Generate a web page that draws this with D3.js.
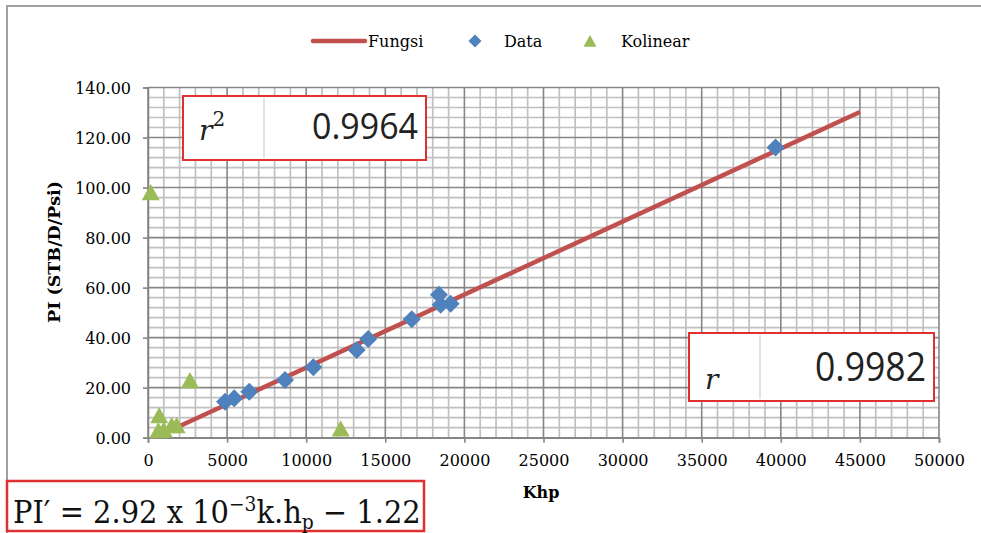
<!DOCTYPE html>
<html>
<head>
<meta charset="utf-8">
<script src="https://cdn.jsdelivr.net/npm/d3@7"></script>
<style>
  body { margin: 0; background: #fff; }
  svg { display: block; }
  .tick-label { font-family: 'DejaVu Serif', serif; font-size: 16px; fill: #000; }
  .axis-title { font-family: 'DejaVu Serif', serif; font-weight: bold; fill: #000; }
  .legend-text { font-family: 'DejaVu Serif', serif; font-size: 16px; fill: #000; }
</style>
</head>
<body>
<svg id="chart" width="981" height="533"></svg>
<script>
// --- data ---
const dataKhp = [4870, 5450, 6400, 8660, 10450, 13190, 13920, 16670, 18390, 18500, 19130, 39670];
const dataPI = [14.4, 15.8, 18.4, 23.1, 28.2, 35.1, 39.5, 47.4, 57.1, 53.1, 53.5, 116.0];

const kolinearKhp = [170, 2650, 710, 650, 1500, 1810, 1000, 12180];
const kolinearPI = [97.5, 22.4, 8.4, 2.4, 4.4, 4.4, 2.7, 3.1];

const fungsiKhp = [1500, 45000];
const fungsiPI = [3.16, 130.2];

const xTicks = [0, 5000, 10000, 15000, 20000, 25000, 30000, 35000, 40000, 45000, 50000];
const yTicks = [0, 20, 40, 60, 80, 100, 120, 140];

const legendNames = ['Fungsi', 'Data', 'Kolinear'];
const r2Value = '0.9964';
const rValue = '0.9982';

// --- layout ---
const margin = { left: 148, right: 42, top: 87.5, bottom: 95.3 };
const W = 981, H = 533;
const svg = d3.select('#chart');

svg.append('rect').attr('width', W).attr('height', H).attr('fill', '#fff');

// chart area border (top + left visible)
svg.append('path')
  .attr('d', `M7,${H} V6 H${W}`)
  .attr('fill', 'none')
  .attr('stroke', '#a0a0a0')
  .attr('stroke-width', 2);

const x = d3.scaleLinear().domain([0, 50000]).range([margin.left, W - margin.right]);
const y = d3.scaleLinear().domain([0, 140]).range([H - margin.bottom, margin.top]);

const grid = svg.append('g');

// minor grid
grid.selectAll('.minor-x')
  .data(d3.range(0, 50001, 1000).filter(v => v % 5000 !== 0))
  .join('line')
  .attr('x1', d => x(d)).attr('x2', d => x(d))
  .attr('y1', y(0)).attr('y2', y(140))
  .attr('stroke', '#c0c0c0').attr('stroke-width', 1.7);

grid.selectAll('.minor-y')
  .data(d3.range(0, 141, 4).filter(v => v % 20 !== 0))
  .join('line')
  .attr('x1', x(0)).attr('x2', x(50000))
  .attr('y1', d => y(d)).attr('y2', d => y(d))
  .attr('stroke', '#c0c0c0').attr('stroke-width', 1.7);

// major grid
grid.selectAll('.major-x')
  .data(xTicks)
  .join('line')
  .attr('x1', d => x(d)).attr('x2', d => x(d))
  .attr('y1', y(0)).attr('y2', y(140))
  .attr('stroke', '#868686').attr('stroke-width', 1.6);

grid.selectAll('.major-y')
  .data(yTicks)
  .join('line')
  .attr('x1', x(0)).attr('x2', x(50000))
  .attr('y1', d => y(d)).attr('y2', d => y(d))
  .attr('stroke', '#868686').attr('stroke-width', 1.6);

// axes
const axisX = d3.axisBottom(x).tickValues(xTicks).tickSize(5).tickPadding(9).tickFormat(d3.format('d'));
const axisY = d3.axisLeft(y).tickValues(yTicks).tickSize(5).tickPadding(12).tickFormat(d3.format('.2f'));

const gx = svg.append('g').attr('transform', `translate(0,${y(0)})`).call(axisX);
const gy = svg.append('g').attr('transform', `translate(${x(0)},0)`).call(axisY);

[gx, gy].forEach(g => {
  g.attr('font-family', null).attr('font-size', null);
  g.select('.domain').attr('stroke', '#868686').attr('stroke-width', 1.6);
  g.selectAll('.tick line').attr('stroke', '#868686').attr('stroke-width', 1.6);
  g.selectAll('.tick text').attr('class', 'tick-label');
});
gx.selectAll('.tick text').attr('dy', '0.9em');
gy.selectAll('.tick text').attr('dy', '0.35em');

// axis titles
svg.append('text')
  .attr('class', 'axis-title')
  .attr('font-size', 16)
  .attr('x', 541).attr('y', 498)
  .attr('text-anchor', 'middle')
  .text('Khp');

svg.append('text')
  .attr('class', 'axis-title')
  .attr('font-size', 17.5)
  .attr('transform', 'translate(60,252) rotate(-90)')
  .attr('text-anchor', 'middle')
  .text('PI (STB/D/Psi)');

// mark shapes
function diamond(r) {
  return `M0,${-r}L${r},0L0,${r}L${-r},0Z`;
}
function triangle(w) {
  const h = w * 0.9;
  return `M0,${-h * 0.6}L${w / 2},${h * 0.4}L${-w / 2},${h * 0.4}Z`;
}

const lineColor = '#c0504d';
const dataColor = '#4f81bd';
const kolColor = '#9bbb59';

// Fungsi line
const fungsi = fungsiKhp.map((k, i) => ({ k, p: fungsiPI[i] }));
svg.append('path')
  .datum(fungsi)
  .attr('d', d3.line().x(d => x(d.k)).y(d => y(d.p)))
  .attr('fill', 'none')
  .attr('stroke', lineColor)
  .attr('stroke-width', 4.5);

// Data diamonds
const dataPts = dataKhp.map((k, i) => ({ k, p: dataPI[i] }));
svg.append('g').selectAll('path')
  .data(dataPts)
  .join('path')
  .attr('d', diamond(9))
  .attr('transform', d => `translate(${x(d.k)},${y(d.p)})`)
  .attr('fill', dataColor);

// Kolinear triangles
const kolPts = kolinearKhp.map((k, i) => ({ k, p: kolinearPI[i] }));
svg.append('g').selectAll('path')
  .data(kolPts)
  .join('path')
  .attr('d', triangle(18))
  .attr('transform', d => `translate(${x(d.k)},${y(d.p)})`)
  .attr('fill', kolColor);

// legend
const legend = svg.append('g');
legend.append('line')
  .attr('x1', 313).attr('x2', 365).attr('y1', 41).attr('y2', 41)
  .attr('stroke', lineColor).attr('stroke-width', 4.5).attr('stroke-linecap', 'round');
legend.append('text').attr('class', 'legend-text').attr('x', 368).attr('y', 47).text(legendNames[0]);
legend.append('path').attr('d', diamond(6.5)).attr('transform', 'translate(475,41)').attr('fill', dataColor);
legend.append('text').attr('class', 'legend-text').attr('x', 504).attr('y', 47).text(legendNames[1]);
legend.append('path').attr('d', triangle(13)).attr('transform', 'translate(590,42)').attr('fill', kolColor);
legend.append('text').attr('class', 'legend-text').attr('x', 621).attr('y', 47).text(legendNames[2]);

// statistic boxes
function statBox(x0, y0, w, h, sep, symbol, sup, value, fs, valW, valY, symY) {
  const g = svg.append('g');
  g.append('rect')
    .attr('x', x0).attr('y', y0).attr('width', w).attr('height', h)
    .attr('fill', '#fff')
    .attr('stroke', '#e03030').attr('stroke-width', 2);
  g.append('line')
    .attr('x1', sep).attr('x2', sep).attr('y1', y0 + 2).attr('y2', y0 + h - 2)
    .attr('stroke', '#d8d8d8').attr('stroke-width', 1.5);
  const t = g.append('text')
    .attr('x', x0 + 16).attr('y', symY)
    .attr('font-family', "'DejaVu Serif', serif")
    .attr('font-style', 'italic')
    .attr('font-size', 28)
    .attr('fill', '#222');
  t.append('tspan').text(symbol);
  if (sup) {
    t.append('tspan').attr('dy', -14).attr('font-size', 20).attr('font-style', 'normal').text(sup);
  }
  g.append('text')
    .attr('x', x0 + w - 8).attr('y', valY)
    .attr('text-anchor', 'end')
    .attr('font-family', "'Open Sans', 'Liberation Sans', sans-serif")
    .attr('font-size', fs)
    .attr('textLength', valW)
    .attr('lengthAdjust', 'spacingAndGlyphs')
    .attr('fill', '#222')
    .text(value);
}

statBox(183, 96, 243, 64, 264, 'r', '2', r2Value, 37, 106, 139, 140);
statBox(689, 333, 245, 68, 760, 'r', null, rValue, 41, 111, 381, 389);

// formula box
const fb = svg.append('g');
fb.append('rect')
  .attr('x', 7).attr('y', 481).attr('width', 417).attr('height', 50)
  .attr('fill', '#fff')
  .attr('stroke', '#e03030').attr('stroke-width', 2.5);
const ft = fb.append('text')
  .attr('x', 13).attr('y', 523)
  .attr('font-family', "'DejaVu Serif', serif")
  .attr('font-size', 31)
  .attr('fill', '#111');
ft.append('tspan').text('PI′ = 2.92 x 10');
ft.append('tspan').attr('dy', -12).attr('font-size', 20).text('−3');
ft.append('tspan').attr('dy', 12).text('k.h');
ft.append('tspan').attr('dy', 6).attr('font-size', 20).text('p');
ft.append('tspan').attr('dy', -6).text(' − 1.22');
// squeeze the formula to the width it has in the picture
const fw = ft.node().getBBox().width;
const sx = 408 / fw;
ft.attr('transform', `translate(13,0) scale(${sx},1) translate(-13,0)`);
</script>
</body>
</html>
